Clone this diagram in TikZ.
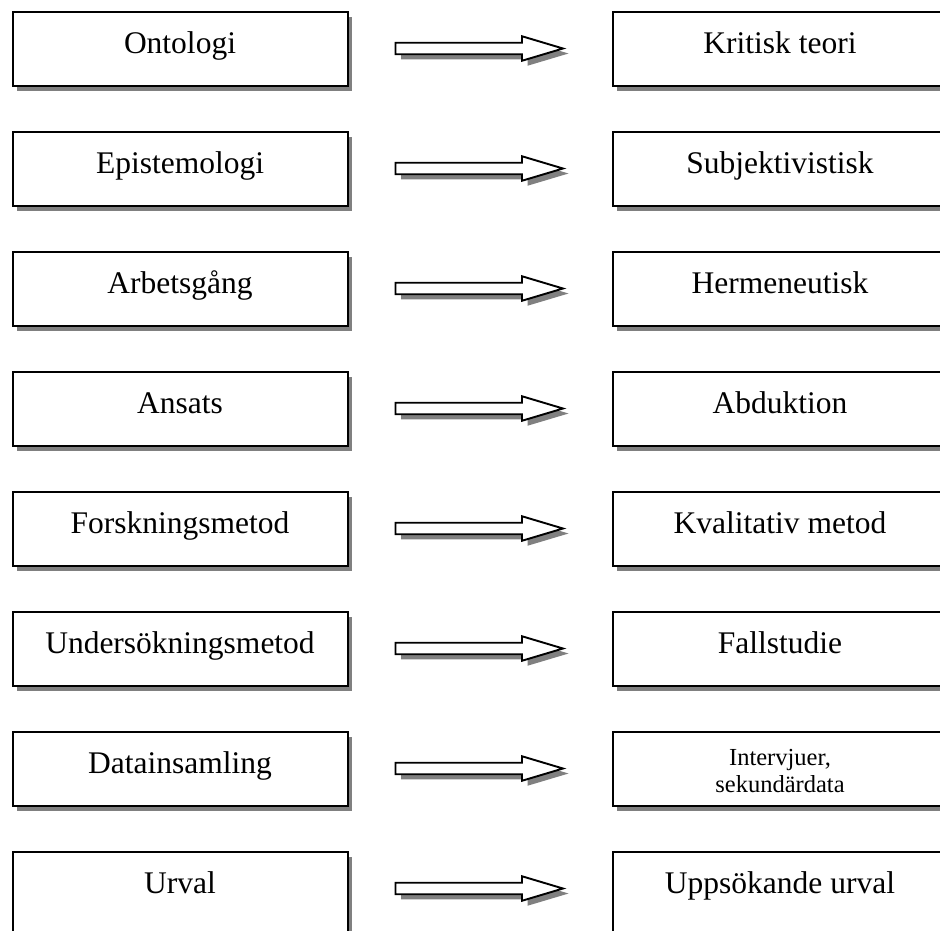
\documentclass[tikz,border=0pt]{standalone}
\usepackage{fontspec}
\setmainfont{Liberation Serif}
\usetikzlibrary{calc,shadows}
\definecolor{shadegray}{gray}{0.5}
\newcommand\rowfont{\fontsize{31.5}{36}\selectfont}
\newcommand\smallrowfont{\fontsize{24.5}{27}\selectfont}
\begin{document}
\begin{tikzpicture}[x=1pt,y=-1pt,
  box/.style={draw=black, line width=2pt, fill=white, minimum width=335pt,
    minimum height=74pt, inner sep=0pt, outer sep=0pt, anchor=north west,
    font=\rowfont, text height=41pt, text depth=33pt, align=center,
    drop shadow={shadow xshift=4.5pt, shadow yshift=-4.5pt, fill=shadegray, opacity=1}},
  lastbox/.style={box, minimum height=100pt, text depth=59pt},
  arrowbody/.style={draw=black, line width=1.9pt, fill=white, line join=miter},
  arrowshadow/.style={fill=shadegray, draw=none}
]
\useasboundingbox (0,0) rectangle (940,930);
\clip (0,0) rectangle (940,930);
\fill[white] (0,0) rectangle (940,930);

\newcommand\arrowoutline[4]{% start, tip, dx, dy
  ($(#1)+(#3,-5.75+#4)$) -- ($(#2)+(-41+#3,-5.75+#4)$) -- ($(#2)+(-41+#3,-12.25+#4)$)
  -- ($(#2)+(#3,#4)$) -- ($(#2)+(-41+#3,12.25+#4)$) -- ($(#2)+(-41+#3,5.75+#4)$)
  -- ($(#1)+(#3,5.75+#4)$) -- cycle}
\newcommand\blockarrow[2]{%
  \fill[arrowshadow] \arrowoutline{#1}{#2}{5.5}{5};
  \draw[arrowbody] \arrowoutline{#1}{#2}{0}{0};
}

\foreach \i/\l/\r in {1/Ontologi/Kritisk teori,
                      2/Epistemologi/Subjektivistisk,
                      3/Arbetsgång/Hermeneutisk,
                      4/Ansats/Abduktion,
                      5/Forskningsmetod/Kvalitativ metod,
                      6/Undersökningsmetod/Fallstudie}{
  \pgfmathsetmacro\t{12+120*(\i-1)}
  \node[box] (L\i) at (12.5,\t) {\l};
  \node[box] (R\i) at (612.5,\t) {\r};
  \coordinate (A\i s) at (395.5,\t+36.5);
  \coordinate (A\i e) at (563,\t+36.5);
  \blockarrow{A\i s}{A\i e}
}

% row 7
\node[box] (L7) at (12.5,732) {Datainsamling};
\node[box, font=\smallrowfont, text height={}, text depth={}] (R7) at (612.5,732) {\rule{0pt}{21pt}Intervjuer,\\sekundärdata};
\coordinate (A7s) at (395.5,768.5);
\coordinate (A7e) at (563,768.5);
\blockarrow{A7s}{A7e}

% row 8
\node[lastbox] (L8) at (12.5,852) {Urval};
\node[lastbox] (R8) at (612.5,852) {Uppsökande urval};
\coordinate (A8s) at (395.5,888.5);
\coordinate (A8e) at (563,888.5);
\blockarrow{A8s}{A8e}
\end{tikzpicture}
\end{document}
